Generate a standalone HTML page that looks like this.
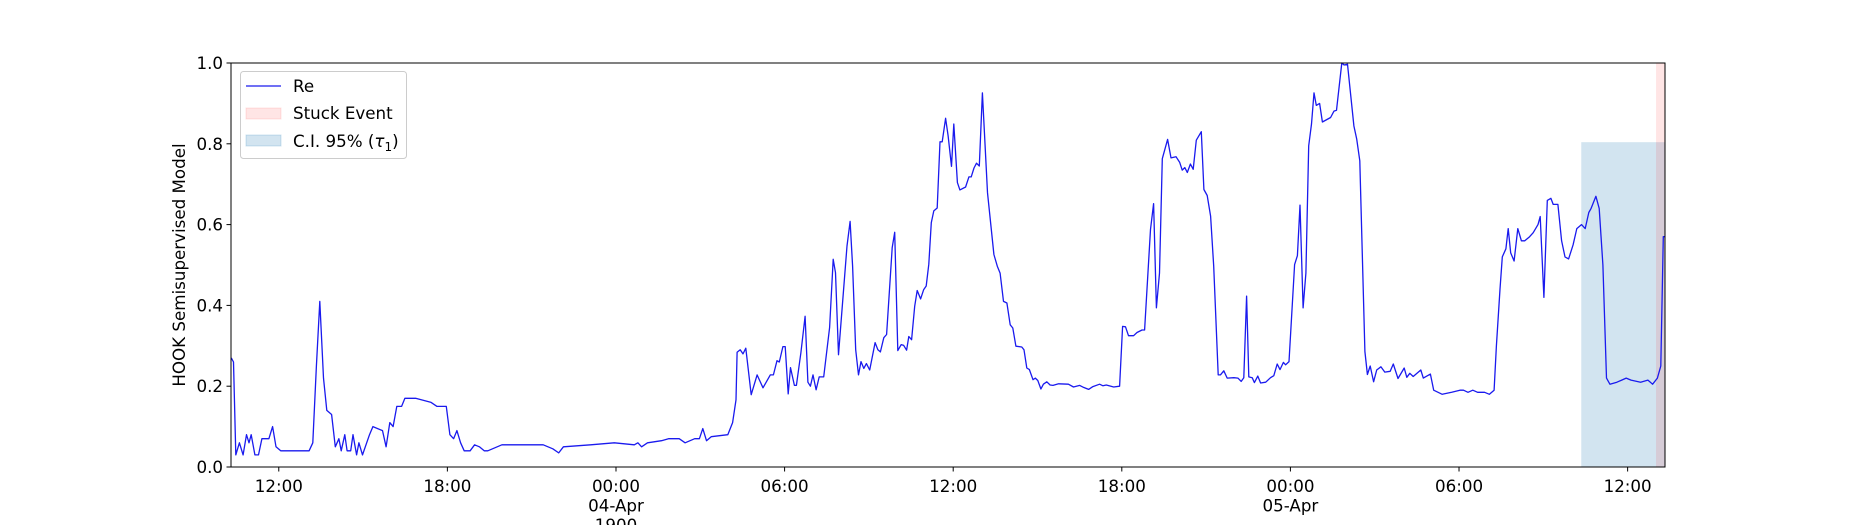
<!DOCTYPE html>
<html><head><meta charset="utf-8"><style>
html,body{margin:0;padding:0;background:#fff;}
svg{display:block;font-family:"DejaVu Sans","Liberation Sans",sans-serif;}
</style></head><body>
<svg id="chart" width="1850" height="525" viewBox="0 0 1850 525"></svg>
<script>
const times=[10.31,10.39,10.47,10.60,10.73,10.85,10.94,11.02,11.15,11.28,11.40,11.65,11.78,11.90,12.07,13.08,13.21,13.34,13.46,13.59,13.71,13.88,14.01,14.14,14.22,14.35,14.43,14.56,14.64,14.77,14.85,14.98,15.23,15.35,15.69,15.82,15.95,16.07,16.20,16.37,16.49,16.87,17.42,17.63,17.96,18.09,18.22,18.34,18.47,18.60,18.81,18.97,19.14,19.31,19.44,19.94,21.41,21.75,21.96,22.13,23.10,23.94,24.65,24.78,24.91,25.12,25.62,25.87,26.25,26.46,26.80,26.97,27.09,27.22,27.39,27.98,28.15,
28.27,28.31,28.42,28.52,28.62,28.81,29.02,29.23,29.49,29.60,29.73,29.81,29.94,30.02,30.13,30.21,30.35,30.42,30.58,30.73,30.83,30.92,31.01,31.12,31.23,31.39,31.60,31.73,31.81,31.92,32.22,32.33,32.42,32.53,32.63,32.72,32.82,32.91,33.03,33.22,33.32,33.41,33.53,33.63,33.83,33.92,34.03,34.15,34.24,34.34,34.42,34.52,34.63,34.72,34.84,34.95,35.04,35.13,35.22,35.31,35.43,35.53,35.61,35.73,35.82,35.94,36.02,36.15,36.24,36.44,36.56,36.64,36.74,36.83,36.93,37.04,37.22,37.45,37.57,
37.67,37.79,37.91,38.03,38.12,38.23,38.44,38.52,38.62,38.71,38.84,38.92,39.01,39.12,39.21,39.33,39.45,39.55,39.75,40.10,40.28,40.50,40.64,40.82,40.97,41.21,41.33,41.45,41.71,41.92,42.03,42.13,42.24,42.42,42.54,42.72,42.81,43.02,43.13,43.23,43.34,43.44,43.63,43.75,43.93,44.06,44.15,44.24,44.33,44.44,44.54,44.65,44.83,44.92,45.04,45.16,45.27,45.43,45.51,45.63,45.75,45.99,46.13,46.25,46.34,46.44,46.52,46.64,46.72,46.84,46.94,47.12,47.29,47.41,47.53,47.63,47.75,47.83,47.95,48.15,48.25,48.34,48.45,48.55,48.65,48.75,48.84,48.92,49.04,49.14,49.43,49.55,49.64,49.83,49.91,50.03,50.26,50.36,50.47,50.65,50.74,50.84,50.96,51.07,51.22,51.36,51.55,51.66,51.83,52.05,52.14,52.25,52.37,52.64,
52.73,52.98,53.10,53.40,53.74,54.03,54.16,54.32,54.49,54.66,54.91,55.08,55.25,55.33,55.46,55.54,55.67,55.75,55.84,55.96,56.09,56.22,56.34,56.51,56.64,56.81,56.89,57.02,57.14,57.27,57.35,57.52,57.65,57.77,57.90,58.06,58.19,58.36,58.49,58.62,58.70,58.87,58.99,59.12,59.25,59.37,59.62,59.79,59.95,60.12,60.46,60.72,60.89,61.06,61.18,61.27,61.33];
const values=[0.27,0.26,0.03,0.06,0.03,0.08,0.06,0.08,0.03,0.03,0.07,0.07,0.10,0.05,0.04,0.04,0.06,0.25,0.41,0.22,0.14,0.13,0.05,0.07,0.04,0.08,0.04,0.04,0.08,0.03,0.06,0.03,0.08,0.10,0.09,0.05,0.11,0.10,0.15,0.15,0.17,0.17,0.16,0.15,0.15,0.08,0.07,0.09,0.06,0.04,0.04,0.055,0.05,0.04,0.04,0.055,0.055,0.045,0.035,0.05,0.055,0.06,0.055,0.06,0.05,0.06,0.065,0.07,0.07,0.06,0.07,0.07,0.095,0.065,0.075,0.08,0.11,
0.166,0.284,0.29,0.28,0.294,0.179,0.228,0.196,0.228,0.228,0.263,0.26,0.298,0.298,0.181,0.246,0.202,0.202,0.283,0.373,0.21,0.20,0.228,0.191,0.223,0.223,0.345,0.514,0.481,0.278,0.547,0.608,0.497,0.29,0.228,0.261,0.244,0.256,0.24,0.308,0.29,0.285,0.32,0.328,0.543,0.581,0.288,0.303,0.301,0.289,0.323,0.315,0.398,0.437,0.416,0.439,0.448,0.502,0.605,0.634,0.641,0.805,0.805,0.863,0.82,0.744,0.849,0.704,0.686,0.693,0.718,0.718,0.74,0.752,0.745,0.926,0.679,0.526,0.497,
0.48,0.41,0.406,0.352,0.344,0.299,0.297,0.29,0.245,0.241,0.216,0.22,0.214,0.193,0.205,0.211,0.203,0.202,0.206,0.205,0.198,0.202,0.197,0.192,0.199,0.205,0.201,0.203,0.198,0.2,0.348,0.347,0.325,0.325,0.333,0.339,0.339,0.588,0.652,0.394,0.48,0.763,0.811,0.765,0.768,0.754,0.735,0.741,0.729,0.75,0.737,0.809,0.83,0.687,0.672,0.621,0.497,0.228,0.228,0.238,0.22,0.221,0.22,0.212,0.221,0.423,0.223,0.221,0.209,0.225,0.208,0.21,0.221,0.226,0.255,0.241,0.259,0.253,0.261,0.501,0.523,0.648,0.394,0.48,0.795,0.849,0.926,0.895,0.9,0.854,0.865,0.881,0.883,1.0,0.995,0.997,0.844,0.812,0.758,0.286,0.229,0.25,0.211,0.24,0.248,0.235,0.237,0.255,0.219,0.245,0.222,0.232,0.224,0.24,
0.22,0.23,0.19,0.18,0.185,0.19,0.19,0.185,0.19,0.185,0.185,0.18,0.19,0.30,0.44,0.52,0.54,0.59,0.53,0.51,0.59,0.56,0.56,0.57,0.58,0.60,0.62,0.42,0.66,0.665,0.65,0.65,0.56,0.52,0.515,0.55,0.59,0.60,0.59,0.63,0.64,0.67,0.64,0.50,0.22,0.205,0.21,0.215,0.22,0.215,0.21,0.215,0.205,0.22,0.25,0.57,0.57];
const xTickHours=[12,18,24,30,36,42,48,54,60];
const xTickLabels=["12:00","18:00","00:00\n04-Apr\n1900","06:00","12:00","18:00","00:00\n05-Apr","06:00","12:00"];
const yTicks=[0,0.2,0.4,0.6,0.8,1.0];
const ciStart=58.35, ciEnd=61.33, ciTop=0.804;
const stuckStart=61.01, stuckEnd=61.33;
const xMin=10.30, xMax=61.33;

const NS="http://www.w3.org/2000/svg";
const svg=document.getElementById('chart');
const L=231,R=1665,T=63,B=467,FS=16.7;
const xs=h=>L+(h-xMin)/(xMax-xMin)*(R-L);
const ys=v=>B-v*(B-T);
function mk(tag,attrs,parent){const e=document.createElementNS(NS,tag);for(const k in attrs)e.setAttribute(k,attrs[k]);(parent||svg).appendChild(e);return e;}

const ci=mk('rect',{x:xs(ciStart),y:ys(ciTop),width:xs(ciEnd)-xs(ciStart),height:ys(0)-ys(ciTop),fill:'rgb(31,119,180)','fill-opacity':0.2});


const st=mk('rect',{x:xs(stuckStart),y:T,width:xs(stuckEnd)-xs(stuckStart),height:B-T,fill:'rgb(255,0,0)','fill-opacity':0.1});



let d='';
for(let i=0;i<times.length;i++){d+=(i?'L':'M')+xs(times[i]).toFixed(1)+' '+ys(values[i]).toFixed(1);}
const line=mk('path',{d:d,fill:'none',stroke:'#1a1aee','stroke-width':1.3,'stroke-linejoin':'round'});



const frame=mk('rect',{x:L,y:T,width:R-L,height:B-T,fill:'none',stroke:'#000','stroke-width':1});



yTicks.forEach(v=>{
  const y=ys(v);
  const tk=mk('line',{x1:L-4.5,x2:L,y1:y,y2:y,stroke:'#000','stroke-width':1});
  
  
  const t=mk('text',{x:L-8,y:y+6,'text-anchor':'end','font-size':FS,fill:'#000'});
  t.textContent=v.toFixed(1);
  
  
});
xTickHours.forEach((h,i)=>{
  const x=xs(h);
  const tk=mk('line',{x1:x,x2:x,y1:B,y2:B+4.5,stroke:'#000','stroke-width':1});
  
  
  const t=mk('text',{x:x,y:B+25,'text-anchor':'middle','font-size':FS,fill:'#000'});
  
  
  xTickLabels[i].split('\n').forEach((s,j)=>{const sp=mk('tspan',{x:x,dy:j?19.5:0},t);sp.textContent=s;});
});
const yl=mk('text',{x:0,y:0,transform:'translate(185,'+((T+B)/2)+') rotate(-90)','text-anchor':'middle','font-size':FS,fill:'#000'});
yl.textContent='HOOK Semisupervised Model';



const lg=mk('g',{});


mk('rect',{x:240.5,y:71.5,width:166,height:87,rx:3,fill:'#fff','fill-opacity':0.8,stroke:'#ccc'},lg);
const e1=mk('line',{x1:246,x2:281,y1:86,y2:86,stroke:'#1a1aee','stroke-width':1.3},lg);


const t1=mk('text',{x:293,y:92,'font-size':FS},lg);t1.textContent='Re';


mk('rect',{x:246,y:108,width:35,height:11,fill:'rgb(255,0,0)','fill-opacity':0.1,stroke:'rgb(255,0,0)','stroke-opacity':0.1},lg);
const t2=mk('text',{x:293,y:119,'font-size':FS},lg);t2.textContent='Stuck Event';


mk('rect',{x:246,y:135,width:35,height:11,fill:'rgb(31,119,180)','fill-opacity':0.2,stroke:'rgb(31,119,180)','stroke-opacity':0.2},lg);
const t3=mk('text',{x:293,y:147,'font-size':FS},lg);


const a=mk('tspan',{},t3);a.textContent='C.I. 95% (';
const b=mk('tspan',{'font-style':'italic'},t3);b.textContent='τ';
const c=mk('tspan',{dy:4,'font-size':12},t3);c.textContent='1';
const e=mk('tspan',{dy:-4},t3);e.textContent=')';
</script>
</body></html>
